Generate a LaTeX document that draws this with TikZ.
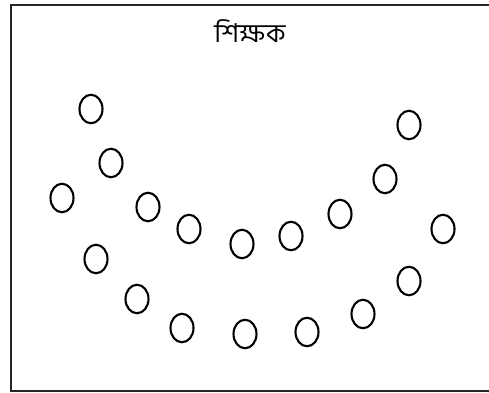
\documentclass[tikz,border=0pt]{standalone}
\usepackage{fontspec}
\newfontfamily\bengalifont[Script=Bengali]{Hind Siliguri}
\usetikzlibrary{shapes.geometric}

\tikzset{
  student/.style={draw, ellipse, line width=2.1pt, minimum width=23pt,
    minimum height=28.5pt, inner sep=0pt},
  frame/.style={draw=black!85, line width=2pt}
}

\begin{document}
\begin{tikzpicture}[x=1pt, y=-1pt]
  % page size of the reference (px)
  \useasboundingbox (0,0) rectangle (489,392);
  \clip (0,0) rectangle (489,392);
  % classroom outline, right side runs off the page
  \draw[frame] (11,5) rectangle (520,390.5);
  % teacher at the front
  \node (teacher) at (250,31) {\bengalifont\fontsize{26}{30}\selectfont শিক্ষক};
  % students sitting in a U
  \foreach \x/\y [count=\i] in {91/109, 111/163, 62/198, 148/207, 189/229,
      242/244, 291/236, 340/214, 385/179, 409/125, 443/229, 96/259,
      137/299, 182/328, 245/334, 307/332, 363/314, 409/281}
    \node[student] (s\i) at (\x,\y) {};
\end{tikzpicture}
\end{document}
